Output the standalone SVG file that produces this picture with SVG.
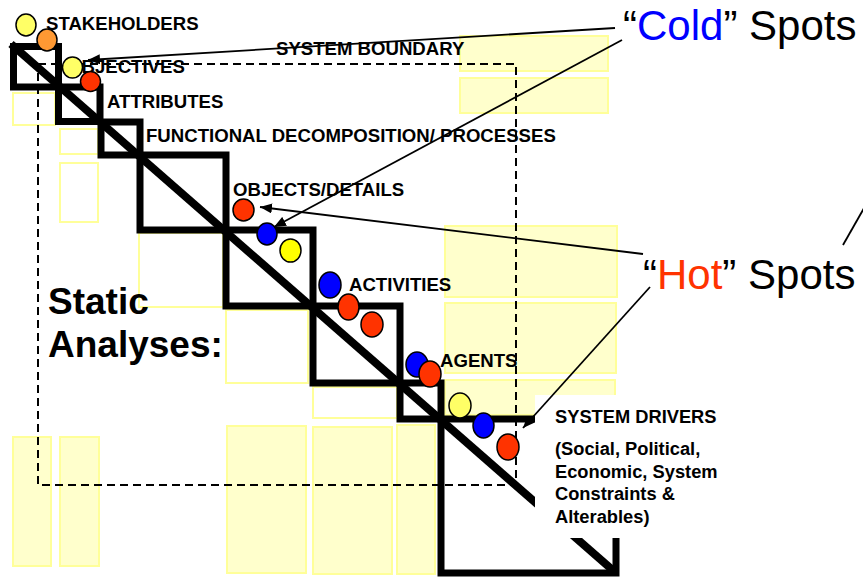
<svg xmlns="http://www.w3.org/2000/svg" width="863" height="579" viewBox="0 0 863 579">
<defs>
<style>
.yf{fill:#FFFFCC;stroke:#FFFF99;stroke-width:2}
.yo{fill:#FFFFFF;stroke:#FFFF99;stroke-width:2}
.sq{fill:none;stroke:#000;stroke-width:7}
.dg{stroke:#000;stroke-width:8}
.bd{fill:none;stroke:#000;stroke-width:2;stroke-dasharray:8 5}
.t{font-family:"Liberation Sans",Arial,sans-serif;font-weight:bold;font-size:18.6px;fill:#000}
.td{font-family:"Liberation Sans",Arial,sans-serif;font-weight:bold;font-size:18.3px;fill:#000}
.big{font-family:"Liberation Sans",Arial,sans-serif;font-weight:bold;font-size:37px;fill:#000}
.sp{font-family:"Liberation Sans",Arial,sans-serif;font-size:42px;fill:#000}
.c{stroke:#000;stroke-width:1.5}
.ln{fill:none;stroke:#000;stroke-width:1.8}
</style>
<marker id="ah" viewBox="0 0 12 10" refX="12" refY="5" markerWidth="12" markerHeight="10" markerUnits="userSpaceOnUse" orient="auto">
<path d="M0,0 L12,5 L0,10 z" fill="#000"/>
</marker>
</defs>
<rect width="863" height="579" fill="#FFFFFF"/>
<g id="background-boxes">
<rect class="yf" x="460" y="36" width="148" height="35"/>
<rect class="yf" x="460" y="78" width="148" height="35"/>
<rect class="yf" x="445" y="226" width="172" height="71"/>
<rect class="yf" x="445" y="303" width="171" height="70"/>
<rect class="yf" x="445" y="380" width="170" height="35"/>
<rect class="yf" x="13" y="437" width="38" height="129"/>
<rect class="yf" x="60" y="437" width="39" height="129"/>
<rect class="yf" x="227" y="426" width="79" height="147"/>
<rect class="yf" x="313" y="427" width="79" height="147"/>
<rect class="yf" x="397" y="425" width="38" height="149"/>
<rect class="yo" x="13" y="93" width="42" height="32"/>
<rect class="yo" x="60" y="129" width="38" height="25"/>
<rect class="yo" x="60" y="163" width="38" height="59"/>
<rect class="yo" x="139" y="233" width="84" height="74"/>
<rect class="yo" x="226" y="310" width="82" height="73"/>
<rect class="yo" x="313" y="387" width="84" height="31"/>
</g>
<g id="system-boundary">
<rect class="bd" x="38" y="64" width="478" height="421"/>
</g>
<g id="staircase">
<rect class="sq" x="13.5" y="46.5" width="45" height="40.5"/>
<rect class="sq" x="58.5" y="87" width="41.5" height="34.5"/>
<rect class="sq" x="101" y="122" width="39" height="33"/>
<rect class="sq" x="140" y="155" width="86" height="75"/>
<rect class="sq" x="226" y="230" width="87" height="76"/>
<rect class="sq" x="313" y="306" width="87" height="77"/>
<rect class="sq" x="400" y="383" width="41" height="36"/>
<rect class="sq" x="441" y="419" width="175" height="154"/>
<line class="dg" x1="11" y1="44" x2="616" y2="573"/>
</g>
<g id="system-drivers">
<rect x="535" y="395" width="190" height="143" fill="#FFFFFF"/>
<text class="td" x="555" y="423">SYSTEM DRIVERS</text>
<text class="td" x="555" y="455">(Social, Political,</text>
<text class="td" x="555" y="477.5">Economic, System</text>
<text class="td" x="555" y="500">Constraints &amp;</text>
<text class="td" x="555" y="522.5">Alterables)</text>
</g>
<g id="labels">
<text class="t" x="46" y="30">STAKEHOLDERS</text>
<text class="t" x="276" y="55">SYSTEM BOUNDARY</text>
<text class="t" x="67" y="72.5">OBJECTIVES</text>
<text class="t" x="107" y="108">ATTRIBUTES</text>
<text class="t" x="146" y="141.5">FUNCTIONAL DECOMPOSITION/ PROCESSES</text>
<text class="t" x="233" y="195.5">OBJECTS/DETAILS</text>
<text class="t" x="349" y="291">ACTIVITIES</text>
<text class="t" x="440" y="366.5">AGENTS</text>
</g>
<g id="static-analyses">
<text class="big" x="48" y="314">Static</text>
<text class="big" x="48" y="357">Analyses:</text>
</g>
<g id="spots">
<ellipse class="c" cx="26" cy="25" rx="10" ry="11" fill="#FFFF66"/>
<ellipse class="c" cx="47" cy="40" rx="10" ry="11" fill="#FF9933"/>
<ellipse class="c" cx="72.5" cy="67.5" rx="10" ry="10.5" fill="#FFFF66"/>
<ellipse class="c" cx="90.5" cy="81.5" rx="10" ry="10" fill="#FF3300"/>
<ellipse class="c" cx="243.5" cy="210" rx="10.5" ry="11" fill="#FF3300"/>
<ellipse class="c" cx="267" cy="234" rx="10" ry="11" fill="#0000FF"/>
<ellipse class="c" cx="290.5" cy="250.5" rx="10.5" ry="11.5" fill="#FFFF00"/>
<ellipse class="c" cx="330" cy="285" rx="11" ry="13" fill="#0000FF"/>
<ellipse class="c" cx="348.5" cy="307" rx="10.5" ry="13" fill="#FF3300"/>
<ellipse class="c" cx="372" cy="324.5" rx="11" ry="12.5" fill="#FF3300"/>
<ellipse class="c" cx="417" cy="364.5" rx="11" ry="12.5" fill="#0000FF"/>
<ellipse class="c" cx="430" cy="374" rx="11" ry="13" fill="#FF3300"/>
<ellipse class="c" cx="460" cy="405.5" rx="11" ry="12.5" fill="#FFFF66"/>
<ellipse class="c" cx="483.5" cy="425.5" rx="10.5" ry="12.5" fill="#0000FF"/>
<ellipse class="c" cx="508" cy="447" rx="11" ry="13" fill="#FF3300"/>
</g>
<g id="cold-spots">
<text class="sp" x="623" y="40">“<tspan fill="#0000FF">Cold</tspan>” Spots</text>
</g>
<g id="hot-spots">
<text class="sp" x="643" y="289">“<tspan fill="#FF3300">Hot</tspan>” Spots</text>
</g>
<g id="connectors">
<line class="ln" x1="615" y1="28" x2="88" y2="60" marker-end="url(#ah)"/>
<line class="ln" x1="622" y1="40" x2="274" y2="227" marker-end="url(#ah)"/>
<line class="ln" x1="643" y1="254" x2="260" y2="207" marker-end="url(#ah)"/>
<line class="ln" x1="650" y1="287" x2="523" y2="428" marker-end="url(#ah)"/>
<line class="ln" x1="843" y1="245" x2="880" y2="180"/>
</g>
</svg>
